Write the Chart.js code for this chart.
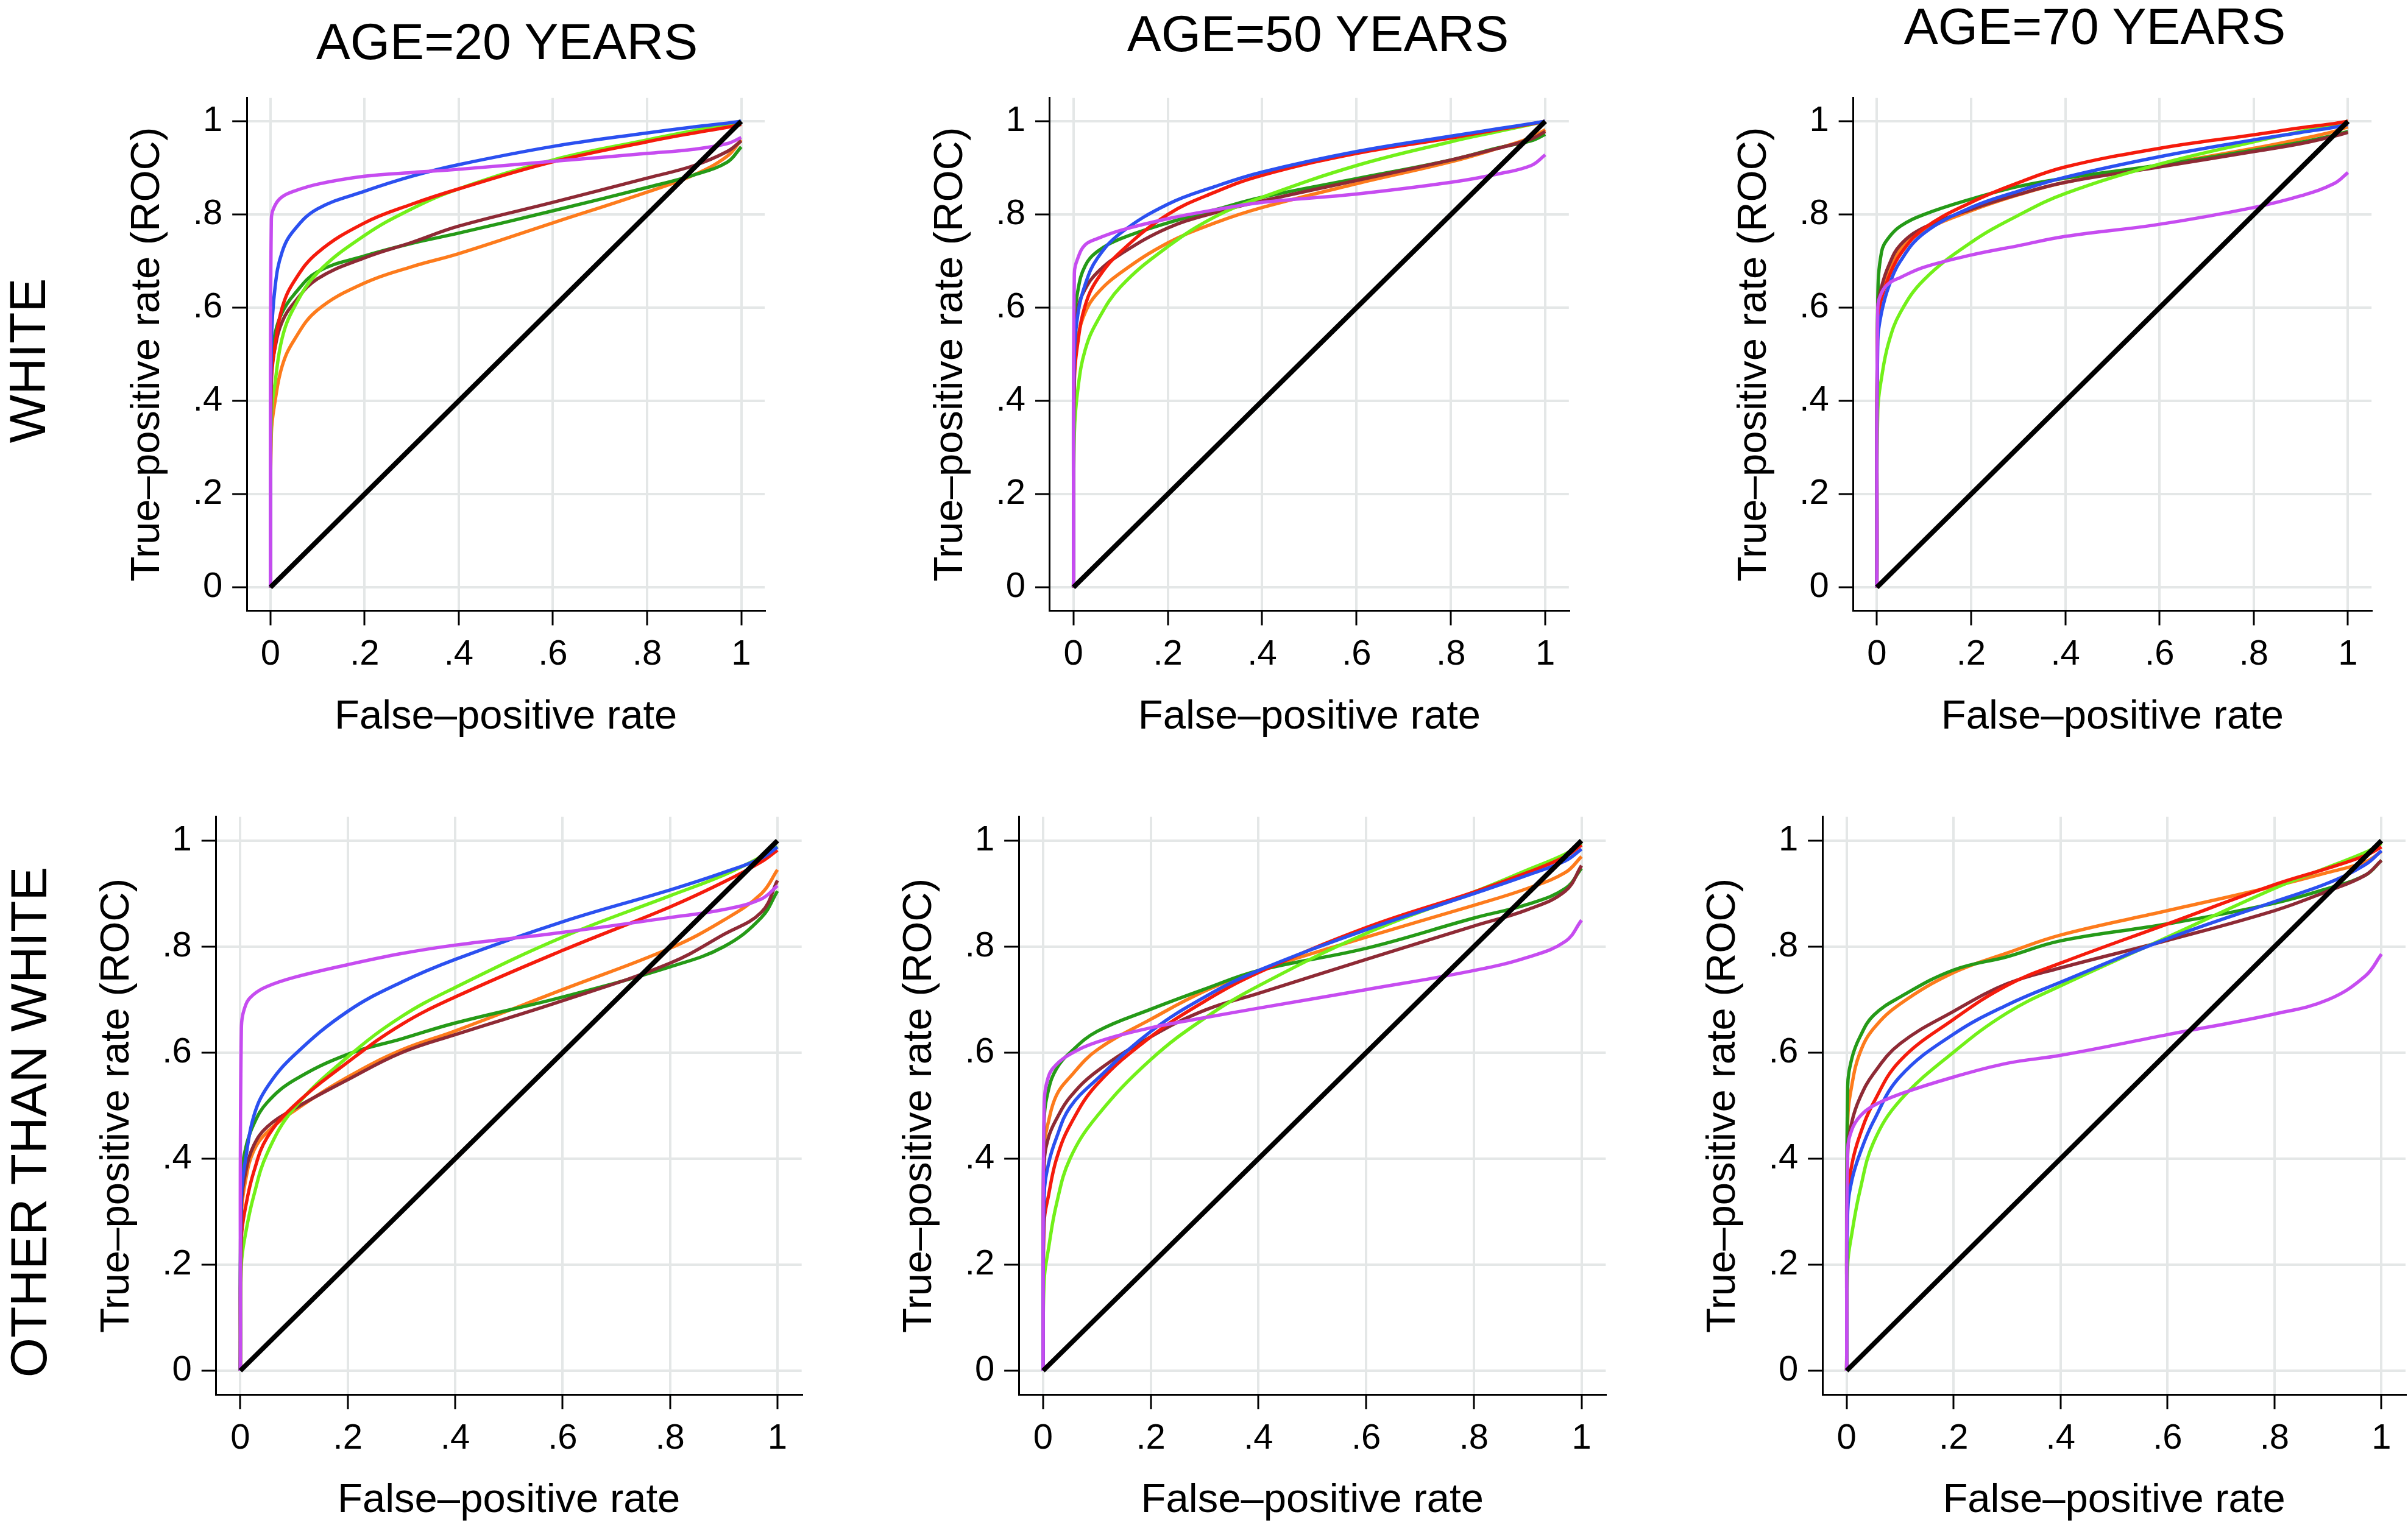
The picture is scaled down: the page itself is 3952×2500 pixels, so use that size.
<!DOCTYPE html>
<html>
<head>
<meta charset="utf-8">
<title>ROC curves by age and race</title>
<script src="https://cdn.jsdelivr.net/npm/chart.js@4.4.1/dist/chart.umd.min.js"></script>
<style>
  html, body { margin: 0; padding: 0; background: #fff; }
  body { position: relative; width: 3952px; height: 2500px; overflow: hidden;
         font-family: "Liberation Sans", Arial, Helvetica, sans-serif; color: #000; }
  canvas { position: absolute; }
  .colTitle { position: absolute; font-size: 84px; line-height: 1; white-space: nowrap;
              transform: translate(-50%, -50%); }
  .rowTitle { position: absolute; font-size: 84px; line-height: 1; white-space: nowrap;
              transform: translate(-50%, -50%) rotate(-90deg); }
</style>
</head>
<body>
<script>
// === Data ===
// false-positive rates where every coloured curve was read
const fpr = [0, 0.002, 0.01, 0.025, 0.05, 0.1, 0.2, 0.3, 0.4, 0.6, 0.8, 0.9, 0.97, 1];
// chance diagonal
const diagFpr = [0, 1];
const diagTpr = [0, 1];

const tickValues = [0, 0.2, 0.4, 0.6, 0.8, 1];
const tickLabels = ["0", ".2", ".4", ".6", ".8", "1"];
const ageTitles = ["AGE=20 YEARS", "AGE=50 YEARS", "AGE=70 YEARS"];
const raceLabels = ["WHITE", "OTHER THAN WHITE"];
const xTitle = "False\u2013positive rate";
const yTitle = "True\u2013positive rate (ROC)";

// WHITE, age 20
const w20Purple = [0, .79, .82, .838, .85, .865, .882, .89, .897, .914, .931, .94, .952, .965];
const w20Blue   = [0, .52, .645, .72, .766, .812, .85, .882, .907, .946, .975, .988, .996, 1];
const w20Red    = [0, .44, .52, .60, .656, .718, .782, .822, .855, .913, .956, .975, .987, .993];
const w20LGreen = [0, .37, .44, .535, .60, .675, .755, .812, .855, .917, .96, .98, .993, 1];
const w20Brown  = [0, .45, .515, .57, .61, .662, .707, .74, .775, .826, .878, .905, .935, .958];
const w20DGreen = [0, .48, .545, .59, .628, .677, .711, .738, .76, .808, .858, .885, .912, .945];
const w20Orange = [0, .33, .40, .475, .53, .595, .653, .688, .716, .782, .848, .885, .925, .96];

// WHITE, age 50
const w50Purple = [0, .673, .708, .735, .748, .766, .791, .81, .826, .844, .869, .887, .905, .928];
const w50Blue   = [0, .50, .59, .65, .705, .76, .822, .86, .891, .935, .968, .984, .995, 1];
const w50Red    = [0, .44, .53, .605, .66, .72, .80, .848, .884, .931, .964, .982, .994, 1];
const w50LGreen = [0, .33, .43, .51, .57, .645, .731, .795, .837, .905, .956, .978, .993, 1];
const w50Brown  = [0, .50, .60, .64, .675, .715, .771, .804, .829, .873, .917, .942, .962, .978];
const w50DGreen = [0, .56, .64, .69, .72, .748, .782, .81, .837, .877, .917, .943, .958, .972];
const w50Orange = [0, .46, .54, .59, .63, .675, .739, .782, .815, .866, .913, .942, .965, .982];

// WHITE, age 70
const w70Purple = [0, .60, .632, .652, .665, .687, .713, .733, .753, .779, .815, .84, .866, .89];
const w70Blue   = [0, .53, .59, .645, .70, .76, .815, .85, .88, .924, .96, .976, .987, .993];
const w70Red    = [0, .57, .62, .665, .715, .77, .826, .868, .902, .942, .971, .986, .995, 1];
const w70LGreen = [0, .38, .45, .525, .59, .66, .74, .798, .845, .908, .956, .978, .993, 1];
const w70Brown  = [0, .60, .645, .69, .735, .772, .811, .843, .869, .902, .935, .952, .968, .976];
const w70DGreen = [0, .62, .72, .75, .775, .80, .833, .86, .878, .906, .938, .955, .97, .978];
const w70Orange = [0, .58, .625, .68, .725, .765, .808, .842, .869, .906, .942, .962, .978, .988];

// OTHER THAN WHITE, age 20
const o20Purple = [0, .645, .69, .71, .725, .742, .766, .787, .803, .827, .855, .87, .89, .915];
const o20Blue   = [0, .33, .40, .48, .535, .595, .678, .733, .776, .847, .907, .94, .967, .988];
const o20Red    = [0, .25, .31, .375, .44, .50, .582, .653, .705, .793, .875, .922, .96, .982];
const o20LGreen = [0, .20, .26, .33, .41, .495, .592, .668, .723, .818, .896, .935, .97, .989];
const o20Brown  = [0, .31, .375, .425, .46, .494, .549, .60, .634, .698, .769, .823, .865, .925];
const o20DGreen = [0, .36, .42, .465, .506, .548, .597, .626, .656, .705, .762, .80, .855, .905];
const o20Orange = [0, .29, .36, .415, .45, .49, .554, .605, .641, .719, .797, .85, .90, .945];

// OTHER THAN WHITE, age 50
const o50Purple = [0, .50, .555, .578, .597, .62, .647, .666, .684, .719, .755, .78, .81, .85];
const o50Blue   = [0, .33, .39, .44, .497, .55, .64, .705, .755, .832, .90, .935, .962, .984];
const o50Red    = [0, .28, .33, .40, .463, .54, .63, .697, .751, .836, .903, .94, .97, .992];
const o50LGreen = [0, .17, .23, .315, .40, .48, .587, .665, .726, .825, .903, .945, .975, .995];
const o50Brown  = [0, .39, .44, .475, .516, .565, .63, .68, .712, .776, .839, .87, .905, .953];
const o50DGreen = [0, .47, .53, .57, .60, .64, .682, .72, .755, .797, .854, .88, .91, .948];
const o50Orange = [0, .42, .47, .52, .554, .605, .663, .716, .755, .818, .878, .91, .94, .97];

// OTHER THAN WHITE, age 70
const o70Purple = [0, .415, .455, .48, .50, .522, .554, .58, .595, .634, .673, .70, .745, .786];
const o70Blue   = [0, .30, .36, .41, .47, .555, .635, .69, .733, .815, .885, .92, .955, .981];
const o70Red    = [0, .32, .39, .445, .505, .585, .663, .727, .769, .843, .917, .948, .972, .988];
const o70LGreen = [0, .20, .26, .34, .43, .51, .601, .675, .726, .818, .91, .95, .978, .995];
const o70Brown  = [0, .41, .47, .515, .56, .617, .678, .73, .76, .812, .868, .905, .935, .963];
const o70DGreen = [0, .535, .59, .63, .67, .705, .756, .781, .811, .843, .882, .91, .935, .963];
const o70Orange = [0, .47, .54, .60, .645, .692, .751, .788, .822, .868, .914, .94, .96, .98];

// === Styles ===
const curveColors = ["#c64cf0", "#2b50f0", "#f51b0c", "#72f019", "#8e2a35", "#259a17", "#fd7b1c"];
const FONT = "'Liberation Sans', Arial, Helvetica, sans-serif";
Chart.defaults.font.family = FONT;
Chart.defaults.color = "#000";

// === Layout (page pixels) ===
const colTitlePos = [[832, 68], [2163, 55], [3438, 43]];
const rowTitlePos = [[45, 592], [47, 1842]];

// canvas box [left, top, width, height], pixel of value 0 and 1 on each axis, axis range
const panels = [
  { canvas: [150, 110, 1150, 1130], x0: 443.8, x1: 1216.5, y0: 963.8, y1: 190.5, lo: -0.05, hi: 1.05,
    curves: [w20Purple, w20Blue, w20Red, w20LGreen, w20Brown, w20DGreen, w20Orange] },
  { canvas: [1460, 110, 1160, 1130], x0: 1761.7, x1: 2536.1, y0: 963.8, y1: 190.5, lo: -0.05, hi: 1.05,
    curves: [w50Purple, w50Blue, w50Red, w50LGreen, w50Brown, w50DGreen, w50Orange] },
  { canvas: [2780, 110, 1150, 1130], x0: 3080.3, x1: 3853.5, y0: 963.8, y1: 190.5, lo: -0.05, hi: 1.05,
    curves: [w70Purple, w70Blue, w70Red, w70LGreen, w70Brown, w70DGreen, w70Orange] },
  { canvas: [110, 1290, 1230, 1210], x0: 394.4, x1: 1276, y0: 2249.4, y1: 1365.6, lo: -0.045, hi: 1.045,
    curves: [o20Purple, o20Blue, o20Red, o20LGreen, o20Brown, o20DGreen, o20Orange] },
  { canvas: [1420, 1290, 1260, 1210], x0: 1711.9, x1: 2595.6, y0: 2249.4, y1: 1365.6, lo: -0.045, hi: 1.045,
    curves: [o50Purple, o50Blue, o50Red, o50LGreen, o50Brown, o50DGreen, o50Orange] },
  { canvas: [2740, 1290, 1212, 1210], x0: 3030.8, x1: 3911.8, y0: 2249.4, y1: 1365.6, lo: -0.045, hi: 1.045,
    curves: [o70Purple, o70Blue, o70Red, o70LGreen, o70Brown, o70DGreen, o70Orange] }
];

// one axis (x or y), same look for all six panels
function axisOptions(title, lo, hi, isX) {
  return {
    type: "linear",
    min: lo,
    max: hi,
    afterBuildTicks: scale => { scale.ticks = tickValues.map(v => ({ value: v })); },
    ticks: {
      callback: (v, i) => tickLabels[i],
      autoSkip: false,
      maxRotation: 0,
      font: { size: 58 },
      color: "#000",
      padding: isX ? 14 : 16
    },
    grid: {
      color: "#e4e7e7",
      lineWidth: 4,
      drawTicks: true,
      tickLength: 24,
      tickColor: "#000",
      tickWidth: 3
    },
    border: { display: true, color: "#000", width: 3 },
    title: {
      display: true,
      text: title,
      font: { size: 67 },
      color: "#000",
      padding: isX ? { top: 13, bottom: 0 } : { top: 0, bottom: 18 }
    }
  };
}

function buildPanel(p) {
  const [cx, cy, cw, ch] = p.canvas;
  const canvas = document.createElement("canvas");
  canvas.width = cw;
  canvas.height = ch;
  canvas.style.left = cx + "px";
  canvas.style.top = cy + "px";
  canvas.style.width = cw + "px";
  canvas.style.height = ch + "px";
  document.body.appendChild(canvas);

  const datasets = [{
    data: diagFpr.map((x, i) => ({ x: x, y: diagTpr[i] })),
    borderColor: "#000",
    borderWidth: 8,
    tension: 0,
    order: 0
  }];
  p.curves.forEach((tpr, k) => {
    datasets.push({
      data: fpr.map((x, i) => ({ x: x, y: tpr[i] })),
      borderColor: curveColors[k],
      borderWidth: 5.5,
      tension: 0.4,
      order: k + 1
    });
  });

  const chart = new Chart(canvas, {
    type: "line",
    data: { datasets: datasets },
    options: {
      responsive: false,
      animation: false,
      devicePixelRatio: 1,
      layout: { padding: 0 },
      elements: { point: { radius: 0 }, line: { fill: false, borderJoinStyle: "round" } },
      plugins: { legend: { display: false }, tooltip: { enabled: false } },
      scales: {
        x: axisOptions(xTitle, p.lo, p.hi, true),
        y: axisOptions(yTitle, p.lo, p.hi, false)
      }
    }
  });

  // put the plot area exactly where it sits on the figure
  const ca = chart.chartArea;
  const ux = p.x1 - p.x0;
  const uy = p.y0 - p.y1;
  const wantLeft = p.x0 + p.lo * ux - cx;
  const wantRight = p.x0 + p.hi * ux - cx;
  const wantTop = p.y0 - p.hi * uy - cy;
  const wantBottom = p.y0 - p.lo * uy - cy;
  chart.options.layout.padding = {
    left: wantLeft - ca.left,
    top: wantTop - ca.top,
    right: ca.right - wantRight,
    bottom: ca.bottom - wantBottom
  };
  chart.update();
}

panels.forEach(buildPanel);

// column and row headings
ageTitles.forEach((t, i) => {
  const d = document.createElement("div");
  d.className = "colTitle";
  d.textContent = t;
  d.style.left = colTitlePos[i][0] + "px";
  d.style.top = colTitlePos[i][1] + "px";
  document.body.appendChild(d);
});
raceLabels.forEach((t, i) => {
  const d = document.createElement("div");
  d.className = "rowTitle";
  d.textContent = t;
  d.style.left = rowTitlePos[i][0] + "px";
  d.style.top = rowTitlePos[i][1] + "px";
  document.body.appendChild(d);
});
</script>
</body>
</html>
